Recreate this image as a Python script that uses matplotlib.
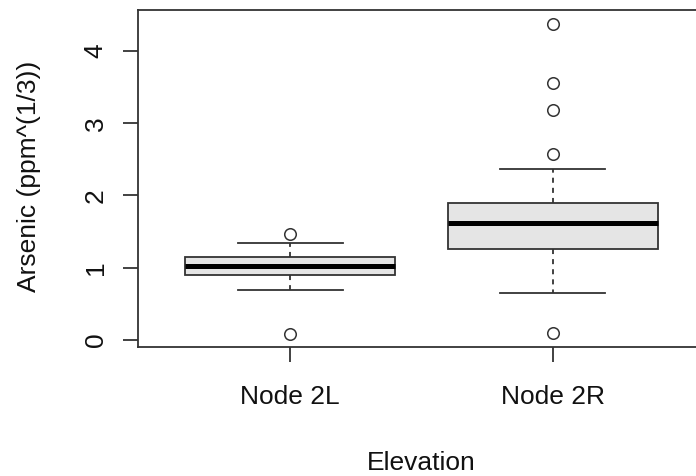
import matplotlib
matplotlib.use('Agg')
import matplotlib.pyplot as plt

plt.rcParams['font.family'] = ['Liberation Sans', 'DejaVu Sans']

# box stats (cube-root arsenic)
groups = ['Node 2L', 'Node 2R']
q1 = [0.90, 1.255]
med = [1.03, 1.62]
q3 = [1.15, 1.90]
wlo = [0.69, 0.646]
whi = [1.34, 2.36]
fliers = [[1.46, 0.083], [4.38, 3.55, 3.18, 2.57, 0.092]]

stats = []
for i in range(len(groups)):
    stats.append(dict(label=groups[i], q1=q1[i], med=med[i], q3=q3[i],
                      whislo=wlo[i], whishi=whi[i], fliers=fliers[i]))

fig = plt.figure(figsize=(6.96, 4.76), dpi=100)
W, H = 696, 476
# R-style plot region; right edge falls just outside the picture
ax = fig.add_axes([138 / W, 1 - 347 / H, (705 - 138) / W, (347 - 10) / H])

lc = '#333333'
lw = 1.3
fs = 19
ax.bxp(stats, positions=[1, 2], widths=0.8, patch_artist=True,
       boxprops=dict(facecolor='#e5e5e5', edgecolor=lc, linewidth=lw),
       medianprops=dict(color='black', linewidth=3.6, solid_capstyle='butt'),
       whiskerprops=dict(color=lc, linewidth=lw, linestyle=(0, (2.8, 2.8))),
       capprops=dict(color=lc, linewidth=lw),
       capwidths=0.4,
       flierprops=dict(marker='o', markerfacecolor='none', markeredgecolor=lc,
                       markersize=8.3, markeredgewidth=1.1))

ax.set_xlim(0.42, 2.58)
ax.set_ylim(-0.097, 4.567)
ax.set_yticks([0, 1, 2, 3, 4])
ax.set_xticks([1, 2])
ax.set_xticklabels(groups)

for s in ax.spines.values():
    s.set_color(lc)
    s.set_linewidth(lw)

ax.tick_params(axis='both', direction='out', length=10.8, width=lw, color=lc,
               labelsize=fs, labelcolor='#111111')
ax.tick_params(axis='y', pad=11)
ax.tick_params(axis='x', pad=16.5)
for t in ax.get_yticklabels():
    t.set_rotation(90)
    t.set_va('center')

fig.text(36 / W, 1 - 176 / H, 'Arsenic (ppm^(1/3))', rotation=90,
         rotation_mode='anchor', ha='center', va='baseline',
         fontsize=fs, color='#111111')
fig.text(421.5 / W, 1 - 475 / H, 'Elevation', ha='center', va='bottom',
         fontsize=fs, color='#111111')

fig.savefig('out.png', dpi=100)
